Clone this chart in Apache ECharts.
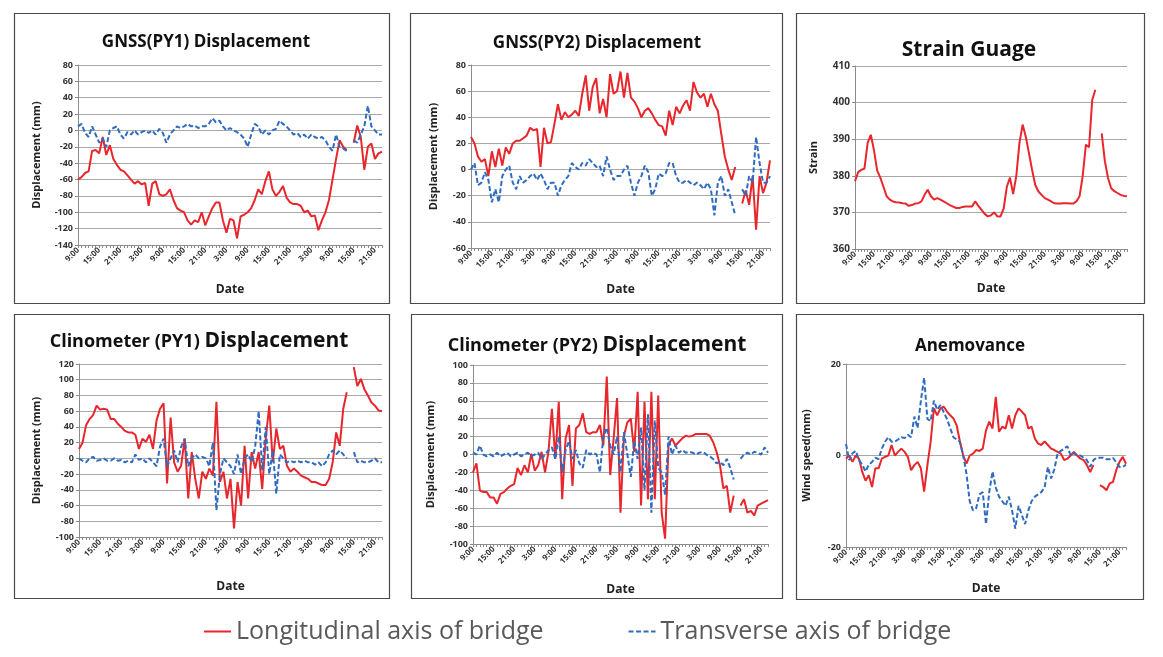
<!DOCTYPE html>
<html>
<head>
<meta charset="utf-8">
<script src="https://cdn.jsdelivr.net/npm/echarts@6/dist/echarts.min.js"></script>
<style>
html,body{margin:0;padding:0;background:#fff;}
#chart{width:1163px;height:657px;}
</style>
</head>
<body>
<div id="chart"></div>
<script>
// hourly categories from 9:00 (day 1) to 23:00 (day 4)
const hours = [];
for (let i = 0; i < 87; i++) hours.push(((9 + i) % 24) + ':00');

const LONG = 'Longitudinal axis of bridge';
const TRANS = 'Transverse axis of bridge';

const gnss1Long = [-60,-57,-52,-50,-25,-24,-28,-8,-30,-18,-35,-42,-48,-50,-55,-60,-65,-62,-66,-64,-92,-65,-62,-78,-80,-78,-72,-85,-95,-98,-100,-110,-115,-110,-112,-100,-116,-105,-95,-88,-88,-110,-125,-108,-110,-132,-105,-103,-100,-95,-85,-72,-78,-62,-50,-72,-80,-75,-68,-82,-88,-90,-90,-92,-100,-98,-105,-104,-122,-110,-100,-85,-60,-35,-12,-20,-24,null,-15,6,-8,-48,-20,-16,-35,-28,-26];
const gnss1Trans = [5,8,-3,-8,5,-5,-15,-10,-20,0,3,5,-5,-10,-2,-5,0,-5,-2,0,-3,0,-5,2,-3,-15,-5,0,5,3,5,8,5,6,3,5,5,8,15,10,12,5,0,3,0,-2,-5,-10,-20,-5,8,5,-5,0,-5,0,2,12,8,5,0,-5,-3,-8,-5,-10,-5,-8,-10,-8,-12,-20,-25,-5,-20,-22,-25,null,-12,-15,-5,5,30,5,0,-5,-5];

const gnss2Long = [25,20,10,6,8,-5,14,2,16,3,17,12,20,22,22,24,26,32,30,31,2,32,20,21,35,50,38,44,40,42,45,41,58,72,45,63,70,43,54,40,73,58,60,75,55,74,55,52,47,40,45,47,43,38,34,33,26,45,34,48,43,49,53,45,67,59,55,58,48,58,50,45,27,10,0,-8,2,null,-26,-16,-27,-5,-46,-5,-18,-10,7];
const gnss2Trans = [0,5,-12,-10,-2,-8,-25,-15,-25,-5,0,3,-10,-15,-5,-10,-8,-5,-3,-8,-3,-8,-15,-10,-10,-20,-12,-8,-5,5,2,0,5,3,8,5,2,3,-5,10,0,-8,-5,-5,0,3,-10,-20,-10,-5,3,-2,-20,-15,-3,-5,-3,5,5,-5,-10,-10,-8,-10,-12,-10,-12,-15,-10,-15,-35,-10,-5,-20,-15,-25,-35,null,-15,-20,-5,-10,25,5,-10,-10,-5];

const strain = [378.5,381,381.6,382,389,391.2,387,381.5,379.5,377,374.4,373.5,373,372.8,372.7,372.5,372.4,371.8,372,372.4,372.5,373,374.8,376.2,374.4,373.5,373.9,373.5,373,372.5,372,371.6,371.2,371.2,371.5,371.6,371.6,371.6,373,371.8,370.7,369.6,368.9,369.2,370,368.9,368.9,371,377,379.5,375,380,389,394,390.7,386.2,381.6,377.5,375.7,374.8,373.9,373.5,373,372.5,372.4,372.4,372.5,372.5,372.4,372.4,373,374.4,380,388.5,387.8,400.7,403.5,null,391.6,384,379.4,376.6,375.8,375.3,374.8,374.5,374.4];

const clino1Long = [12,20,42,50,55,67,62,63,62,50,50,44,40,35,33,33,30,12,25,21,30,12,48,63,70,-32,52,-5,-17,-9,25,-51,8,-26,-51,-17,-26,-13,-22,72,-30,-17,-51,-26,-89,-30,-60,16,-51,8,-13,8,-39,25,67,-5,38,12,16,-9,-17,-13,-17,-22,-24,-26,-30,-30,-32,-34,-34,-26,-5,33,16,63,84,null,116,92,101,88,80,71,67,61,60];
const clino1Trans = [0,-3,-5,0,2,-3,-2,0,-3,-3,0,-3,-2,-5,-3,-5,5,-2,0,-5,0,-5,-10,15,25,-10,0,10,-5,15,25,-10,0,5,0,2,0,-10,20,-66,-20,0,-5,-10,-20,5,-20,0,5,-5,15,60,-15,40,-20,10,-45,5,0,-5,-3,-5,-3,-5,-3,-5,-5,-8,-5,-10,-5,5,10,5,10,5,0,null,8,-5,-3,-5,-5,-3,0,-5,-5];

const clino2Long = [-20,-10,-40,-42,-42,-48,-48,-55,-44,-42,-38,-35,-33,-15,-23,-12,-20,1,-18,-12,3,-20,3,51,-5,59,-50,18,33,-35,29,33,46,25,23,25,25,33,10,87,-23,18,63,-65,21,36,40,3,70,-57,59,-50,70,-50,66,-65,-94,10,18,10,14,18,21,20,21,23,23,23,23,21,14,3,-12,-38,-35,-65,-46,null,-57,-50,-65,-63,-68,-57,-55,-53,-51];
const clino2Trans = [2,0,10,0,-2,0,-2,2,-2,0,2,-2,0,2,-2,0,2,-2,0,2,-5,0,5,8,-5,20,-20,5,15,-5,5,-10,-15,5,0,2,0,-20,20,30,10,0,20,-20,25,0,-25,15,-5,30,-40,45,-65,38,-15,-20,-45,20,0,10,2,5,2,3,2,0,2,3,0,-2,-5,-10,-8,-12,-5,-15,-28,null,-5,0,2,0,3,2,0,8,2];

const windLong = [-0.7,0,-1.4,0,-0.7,-3.6,-5.5,-4.3,-6.9,-2.8,-2.8,-0.7,-0.3,0,2.3,0,0.8,1.5,0.8,-0.3,-3.2,-2.1,-1.4,-2.8,-7.9,-2.1,3,10.3,8.8,10.3,10.7,9.6,8.8,8.1,6.6,3,0,-1.8,0,0.4,1.2,1,1.5,5.5,7.4,5.9,12.8,5.2,6.3,5.9,8.8,5.9,8.8,10.3,9.6,8.8,5.9,6.3,3.7,2.6,2.3,3.1,2.3,1.5,1.2,0.8,0.4,-1,-0.7,0,0.8,0,-0.7,-1,-2.1,-3.6,-2.1,null,-6.5,-6.9,-7.6,-6.1,-5.8,-3.2,-1.4,-0.3,-1.8];
const windTrans = [2.5,-1,0.5,1,-1,-2,-3.5,-2,-1.4,-0.5,-0.8,1.5,3,4,3,3,3.5,4,3.8,4.5,4,8.5,6,12,17,8,7.5,12,10,11,9.5,8,6,4,3.5,3,0,-4,-10,-12,-11.5,-8.5,-8,-15,-8,-3.5,-7,-9,-10,-11,-9,-12,-16,-11,-13,-15,-12,-10,-9,-8.5,-8,-7,-2.5,-5,-3,0.5,1,1.5,2,0,0.5,0,0,-0.5,-1,-2.5,-1,-0.5,-0.5,-0.5,-0.8,-0.8,-0.5,-1.5,-2.5,-2.5,-2];

const RED = '#e8262b';
const BLUE = '#2f6cc0';
const FONT = '"Open Sans", "Noto Sans", sans-serif';

const panels = [
  {grid:{left:78, top:65, width:304, height:180}, min:-140, max:80, interval:20, yName:'Displacement (mm)', yGap:36, xGap:39, yFont:9, long:gnss1Long, trans:gnss1Trans},
  {grid:{left:471, top:65, width:299, height:183}, min:-60, max:80, interval:20, yName:'Displacement (mm)', yGap:32, xGap:36, yFont:9, long:gnss2Long, trans:gnss2Trans},
  {grid:{left:855, top:66, width:272, height:183}, min:360, max:410, interval:10, yName:'Strain', yGap:36, xGap:34, yFont:10, long:strain, trans:null},
  {grid:{left:79, top:364, width:303, height:173}, min:-100, max:120, interval:20, yName:'Displacement (mm)', yGap:37, xGap:44, yFont:9, long:clino1Long, trans:clino1Trans},
  {grid:{left:473, top:365, width:295, height:179}, min:-100, max:100, interval:20, yName:'Displacement (mm)', yGap:37, xGap:40, yFont:9, long:clino2Long, trans:clino2Trans},
  {grid:{left:846, top:364, width:280, height:183}, min:-20, max:20, interval:20, yName:'Wind speed(mm)', yGap:34, xGap:36, yFont:9, long:windLong, trans:windTrans}
];

const grid = [], xAxis = [], yAxis = [], series = [];
panels.forEach((p, i) => {
  grid.push(p.grid);
  xAxis.push({
    type:'category', gridIndex:i, data:hours, boundaryGap:false,
    axisLine:{onZero:false, lineStyle:{color:'#8c8c8c'}},
    axisTick:{show:true, interval:0, length:3, lineStyle:{color:'#8c8c8c'}},
    axisLabel:{interval:5, rotate:45, fontSize:8, color:'#333', fontWeight:'bold', margin:4, fontFamily:FONT},
    splitLine:{show:false},
    name:'Date', nameLocation:'middle', nameGap:p.xGap,
    nameTextStyle:{fontSize:12, fontWeight:'bold', color:'#222', fontFamily:FONT}
  });
  yAxis.push({
    type:'value', gridIndex:i, min:p.min, max:p.max, interval:p.interval,
    axisLine:{show:true, lineStyle:{color:'#8c8c8c'}},
    axisTick:{show:true, length:3, lineStyle:{color:'#8c8c8c'}},
    axisLabel:{fontSize:p.yFont, color:'#333', fontWeight:'bold', margin:5, fontFamily:FONT},
    splitLine:{lineStyle:{color:'#a8a8a8', width:1}},
    name:p.yName, nameLocation:'middle', nameGap:p.yGap, nameRotate:90,
    nameTextStyle:{fontSize:11, fontWeight:'bold', color:'#222', fontFamily:FONT}
  });
  series.push({
    name:LONG, type:'line', xAxisIndex:i, yAxisIndex:i, data:p.long,
    symbol:'none', connectNulls:false, color:RED,
    lineStyle:{color:RED, width:2}
  });
  if (p.trans) {
    series.push({
      name:TRANS, type:'line', xAxisIndex:i, yAxisIndex:i, data:p.trans,
      symbol:'none', connectNulls:false, color:BLUE,
      lineStyle:{color:BLUE, width:2, type:[5,2.5]}
    });
  }
});

const titleStyle = {fontWeight:'bold', color:'#111', fontFamily:FONT};
const richTitle = {a:{fontSize:18, fontWeight:'bold', color:'#111', fontFamily:FONT}, b:{fontSize:21, fontWeight:'bold', color:'#111', fontFamily:FONT}};
const title = [
  {text:'GNSS(PY1) Displacement', left:206, top:34, textAlign:'center', padding:0, textStyle:Object.assign({fontSize:17}, titleStyle)},
  {text:'GNSS(PY2) Displacement', left:597, top:35, textAlign:'center', padding:0, textStyle:Object.assign({fontSize:17}, titleStyle)},
  {text:'Strain Guage', left:969, top:40, textAlign:'center', padding:0, textStyle:Object.assign({fontSize:21}, titleStyle)},
  {text:'{a|Clinometer (PY1)} {b|Displacement}', left:199, top:331, textAlign:'center', padding:0, textStyle:Object.assign({rich:richTitle}, titleStyle)},
  {text:'{a|Clinometer (PY2)} {b|Displacement}', left:597, top:335, textAlign:'center', padding:0, textStyle:Object.assign({rich:richTitle}, titleStyle)},
  {text:'Anemovance', left:970, top:338, textAlign:'center', padding:0, textStyle:Object.assign({fontSize:17}, titleStyle)}
];

const boxes = [[14,13,375,290],[410,13,372,290],[796,13,348,290],[14,314,375,284],[411,314,371,284],[796,314,347,285]];
const graphic = boxes.map(b => ({
  type:'rect', shape:{x:b[0]+0.5, y:b[1]+0.5, width:b[2], height:b[3]},
  style:{fill:'none', stroke:'#4a4a4a', lineWidth:1.2}, silent:true, z:-1
}));

const chart = echarts.init(document.getElementById('chart'), null, {renderer:'canvas'});
chart.setOption({
  animation:false,
  backgroundColor:'#fff',
  title, grid, xAxis, yAxis, series, graphic,
  legend:{
    data:[LONG, TRANS], left:203, top:619, padding:0, itemGap:84, itemWidth:27, itemHeight:14,
    itemStyle:{opacity:0},
    textStyle:{fontSize:25, color:'#595959', fontFamily:FONT}
  }
});
</script>
</body>
</html>
